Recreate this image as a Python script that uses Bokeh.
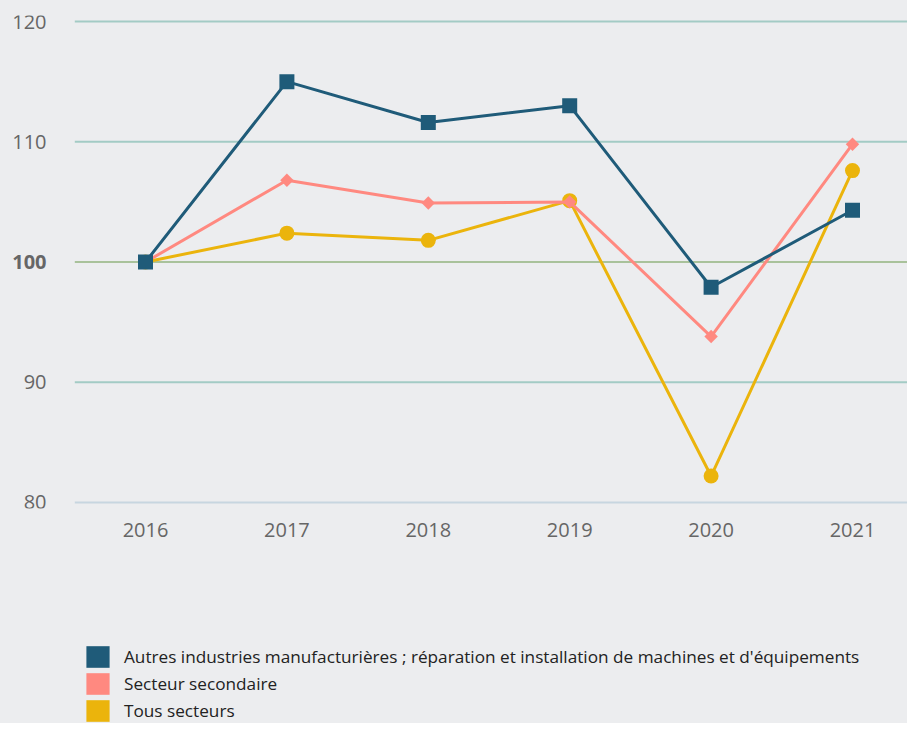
from bokeh.plotting import figure
from bokeh.models import Legend, LegendItem, FixedTicker, ColumnDataSource
from bokeh.layouts import column
from bokeh.embed import file_html
from bokeh.resources import INLINE
from bokeh.core.properties import value
import math

years = ["2016", "2017", "2018", "2019", "2020", "2021"]
autres = [100.0, 115.0, 111.6, 113.0, 97.9, 104.3]
secondaire = [100.0, 106.8, 104.9, 105.0, 93.8, 109.8]
tous = [100.0, 102.4, 101.8, 105.1, 82.2, 107.6]
y_ticks = [80, 90, 100, 110, 120]
y_tick_labels = ["80", "90", "100", "110", "120"]
series_names = [
    "Autres industries manufacturières ; réparation et installation de machines et d'équipements",
    "Secteur secondaire",
    "Tous secteurs",
]

BG = "#ecedef"
C_BLUE = "#1f5b79"
C_PINK = "#ff8980"
C_YELL = "#ebb40c"
FONT = "Open Sans"

W = 907
H1 = 560
H2 = 163
PX_PER_CAT = 141.4
LEFT_PAD = 74.3

xs = list(range(len(years)))
x_start = -0.5 - LEFT_PAD / PX_PER_CAT
x_end = x_start + W / PX_PER_CAT

p = figure(width=W, height=H1, output_backend="svg", toolbar_location=None,
           x_range=(x_start, x_end), y_range=(79.5, 120.5), y_axis_location=None,
           min_border_left=0, min_border_right=0, min_border_top=15, min_border_bottom=H1 - 508)
p.background_fill_color = BG
p.border_fill_color = BG
p.outline_line_color = None
p.xgrid.visible = False
p.ygrid.visible = False

# horizontal value lines
grid_cols = []
for t in y_ticks:
    if t == 100:
        grid_cols.append("#a9c29b")
    elif t == y_ticks[0]:
        grid_cols.append("#c7d6e0")
    else:
        grid_cols.append("#a3cbc5")
n = len(y_ticks)
gsrc = ColumnDataSource(dict(x0=[-0.5] * n, x1=[x_end] * n, y=y_ticks, color=grid_cols,
                             label=y_tick_labels,
                             style=["bold" if t == 100 else "normal" for t in y_ticks],
                             lx=[x_start] * n))
p.segment(x0="x0", x1="x1", y0="y", y1="y", source=gsrc, line_color="color", line_width=2)
p.text(x="lx", y="y", text="label", source=gsrc, x_offset=46, text_align="right",
       text_baseline="middle", text_font=value(FONT), text_font_size="20px",
       text_font_style="style", text_color="#666666")

# x axis
p.xaxis.ticker = FixedTicker(ticks=xs)
p.xaxis.major_label_overrides = {i: y for i, y in zip(xs, years)}
p.xaxis.axis_line_color = None
p.xaxis.major_tick_line_color = None
p.xaxis.minor_tick_line_color = None
p.xaxis.major_tick_out = 0
p.xaxis.major_tick_in = 0
p.xaxis.major_label_standoff = 14
p.xaxis.major_label_text_font = FONT
p.xaxis.major_label_text_font_size = "20px"
p.xaxis.major_label_text_color = "#666666"

src = ColumnDataSource(dict(x=xs, autres=autres, secondaire=secondaire, tous=tous))

p.line("x", "tous", source=src, line_color=C_YELL, line_width=3)
p.scatter("x", "tous", source=src, marker="circle", size=15, fill_color=C_YELL, line_color=None)
p.line("x", "secondaire", source=src, line_color=C_PINK, line_width=3)
p.scatter("x", "secondaire", source=src, marker="square", angle=math.pi / 4, size=9.5,
          fill_color=C_PINK, line_color=None)
p.line("x", "autres", source=src, line_color=C_BLUE, line_width=3)
p.scatter("x", "autres", source=src, marker="square", size=15, fill_color=C_BLUE, line_color=None)

# legend figure
p2 = figure(width=W, height=H2, output_backend="svg", toolbar_location=None,
            x_range=(0, 1), y_range=(0, 1), x_axis_location=None, y_axis_location=None,
            min_border_left=0, min_border_right=0, min_border_top=0, min_border_bottom=0)
p2.background_fill_color = BG
p2.border_fill_color = BG
p2.outline_line_color = None
p2.xgrid.visible = False
p2.ygrid.visible = False

nan = float("nan")
items = []
for name, col in zip(series_names, [C_BLUE, C_PINK, C_YELL]):
    r = p2.quad(left=[nan], right=[nan], top=[nan], bottom=[nan], fill_color=col, line_color=None)
    items.append(LegendItem(label=name, renderers=[r]))

legend = Legend(items=items, location=(83, -1), orientation="vertical",
                glyph_width=29, glyph_height=27, label_height=27, spacing=0,
                label_standoff=12, padding=0, margin=0,
                label_text_font=FONT, label_text_font_size="17.2px", label_text_color="#222222",
                background_fill_alpha=0, border_line_color=None)
p2.add_layout(legend, "center")

layout = column(p, p2, spacing=0, styles={"background-color": BG})
open("out.html", "w").write(file_html(layout, INLINE))
